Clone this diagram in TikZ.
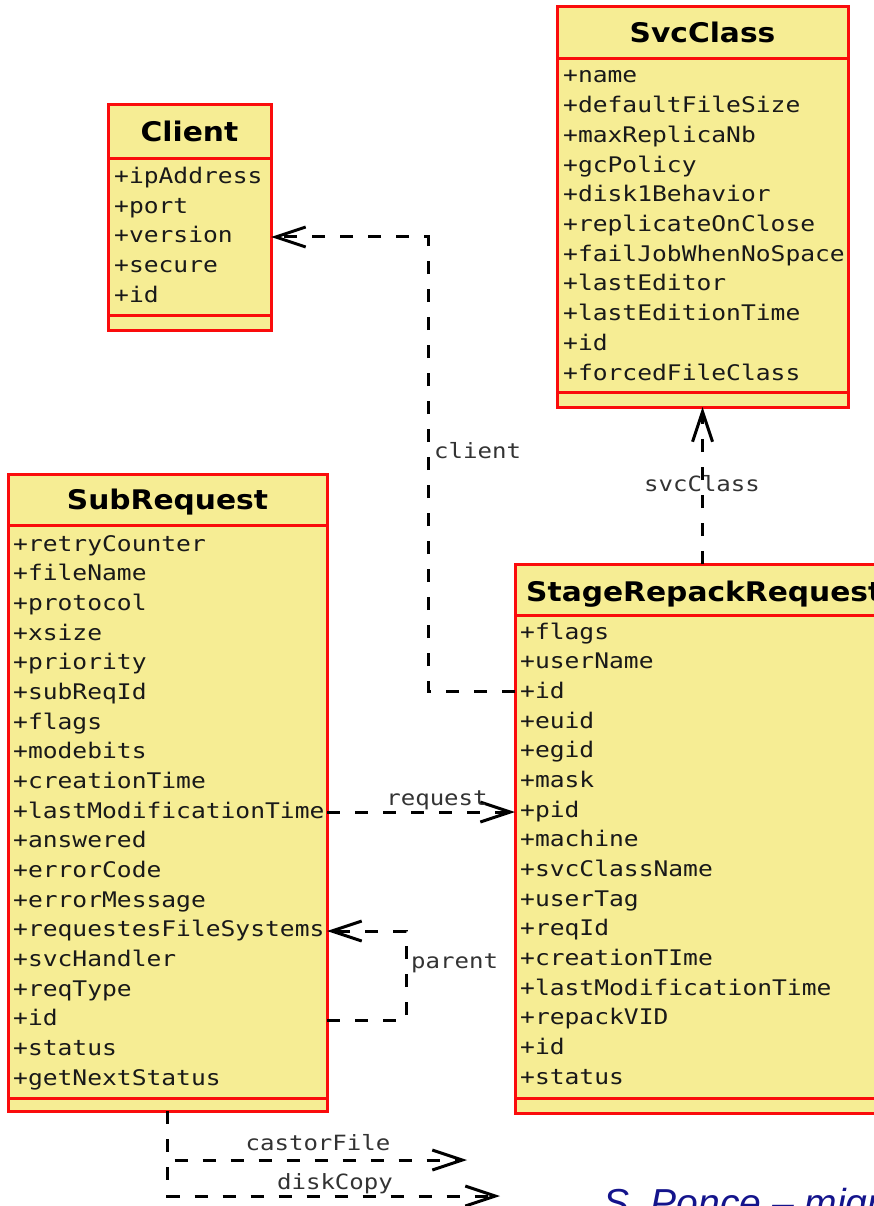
\documentclass[tikz,border=0pt]{standalone}
\usepackage{fontspec}
\usetikzlibrary{arrows.meta}
\newfontfamily\attrfont[FakeStretch=1.145]{DejaVu Sans Mono}
\newfontfamily\titlefont[FakeStretch=1.1]{DejaVu Sans}
\newfontfamily\credfont{Liberation Sans}
\definecolor{classfill}{RGB}{246,237,148}
\definecolor{classline}{RGB}{250,12,12}
\definecolor{credblue}{RGB}{20,20,140}

\tikzset{
  classbox/.style={draw=classline, fill=classfill, line width=3pt, inner sep=0pt, outer sep=0pt, anchor=north west},
  divider/.style={draw=classline, line width=3pt},
  attr/.style={font=\attrfont\fontsize{21.5}{24}\selectfont, text=black!90, anchor=base west, inner sep=0pt},
  ctitle/.style={font=\titlefont\bfseries\fontsize{27}{30}\selectfont, inner sep=0pt},
  dashline/.style={draw=black, line width=3pt, dash pattern=on 13pt off 15pt},
  assoc/.style={dashline, -{Straight Barb[length=30pt,width=20pt,line width=3pt]}},
  rolelabel/.style={font=\attrfont\fontsize{21}{24}\selectfont, text=black!80, inner sep=0pt}
}

\begin{document}
\begin{tikzpicture}[x=1pt, y=-1pt]
\useasboundingbox (0,0) rectangle (874,1206);
\fill[white] (0,0) rectangle (874,1206);
\clip (0,0) rectangle (874,1206);

% ---------- Client ----------
\node[classbox, minimum width=163, minimum height=225] (client) at (108,105) {};
\draw[divider] (client.west |- 0,159) -- (client.east |- 0,159);
\draw[divider] (client.west |- 0,315) -- (client.east |- 0,315);
\node[ctitle, anchor=base] (client-title) at (189.5,142) {Client};
\foreach \t [count=\i from 0] in {+ipAddress,+port,+version,+secure,+id}
  \node[attr] (client-a\i) at (114,184+29.5*\i) {\t};

% ---------- SvcClass ----------
\node[classbox, minimum width=291, minimum height=400] (svc) at (557,7) {};
\draw[divider] (svc.west |- 0,59) -- (svc.east |- 0,59);
\draw[divider] (svc.west |- 0,392) -- (svc.east |- 0,392);
\node[ctitle, anchor=base] (svc-title) at (702.5,43) {SvcClass};
\foreach \t [count=\i from 0] in {+name,+defaultFileSize,+maxReplicaNb,+gcPolicy,+disk1Behavior,+replicateOnClose,+failJobWhenNoSpace,+lastEditor,+lastEditionTime,+id,+forcedFileClass}
  \node[attr] (svc-a\i) at (563,83+29.7*\i) {\t};

% ---------- SubRequest ----------
\node[classbox, minimum width=319, minimum height=637] (sub) at (8,474) {};
\draw[divider] (sub.west |- 0,525) -- (sub.east |- 0,525);
\draw[divider] (sub.west |- 0,1098) -- (sub.east |- 0,1098);
\node[ctitle, anchor=base] (sub-title) at (167.5,509) {SubRequest};
\foreach \t [count=\i from 0] in {+retryCounter,+fileName,+protocol,+xsize,+priority,+subReqId,+flags,+modebits,+creationTime,+lastModificationTime,+answered,+errorCode,+errorMessage,+requestesFileSystems,+svcHandler,+reqType,+id,+status,+getNextStatus}
  \node[attr] (sub-a\i) at (13,551+29.67*\i) {\t};

% ---------- StageRepackRequest ----------
\node[classbox, minimum width=400, minimum height=549] (srr) at (515,564) {};
\draw[divider] (srr.west |- 0,615) -- (srr.east |- 0,615);
\draw[divider] (srr.west |- 0,1098) -- (srr.east |- 0,1098);
\node[ctitle, anchor=base west] (srr-title) at (526,601) {StageRepackRequest};
\foreach \t [count=\i from 0] in {+flags,+userName,+id,+euid,+egid,+mask,+pid,+machine,+svcClassName,+userTag,+reqId,+creationTIme,+lastModificationTime,+repackVID,+id,+status}
  \node[attr] (srr-a\i) at (520,639+29.67*\i) {\t};

% ---------- associations ----------
\draw[assoc] (srr.west |- 0,691) -| (428,237) -- (client.east |- 0,237);
\node[rolelabel, anchor=base west] (lbl-client) at (434,458) {client};

\draw[assoc] (svc.south |- srr.north) -- (svc.south);
\node[rolelabel, anchor=base] (lbl-svc) at (702,491) {svcClass};

\draw[assoc] (sub.east |- 0,812) -- (srr.west |- 0,812);
\node[rolelabel, anchor=base] (lbl-request) at (437,805) {request};

\draw[assoc] (sub.east |- 0,1020) -| (406,931) -- (sub.east |- 0,931);
\node[rolelabel, anchor=base west] (lbl-parent) at (411,968) {parent};

\coordinate (castor-end) at (467,1160);
\coordinate (disk-end) at (500,1196);
\draw[assoc] (sub.south) |- (castor-end);
\draw[assoc] (sub.south) |- (disk-end);
\node[rolelabel, anchor=base] (lbl-castor) at (318,1150) {castorFile};
\node[rolelabel, anchor=base] (lbl-disk) at (335,1189) {diskCopy};

% ---------- footer ----------
\node[font=\credfont\itshape\fontsize{39}{42}\selectfont, text=credblue, anchor=base west, inner sep=0pt] (credit) at (603,1216) {S. Ponce – migration};
\end{tikzpicture}
\end{document}
